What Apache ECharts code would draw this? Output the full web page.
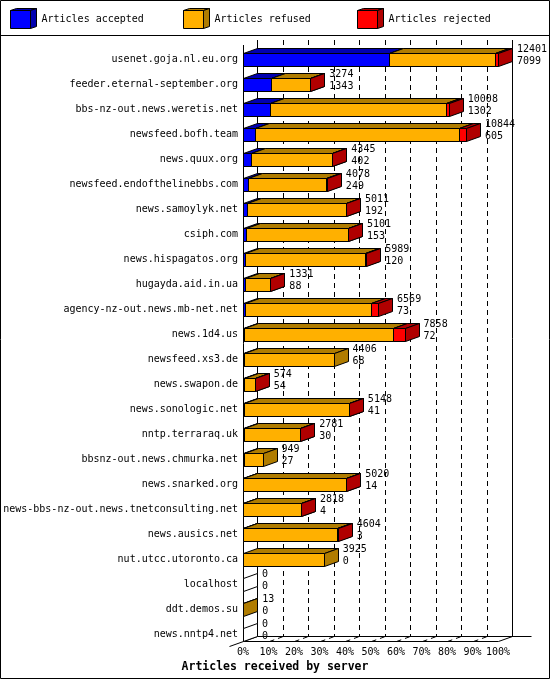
<!DOCTYPE html>
<html>
<head>
<meta charset="utf-8">
<title>Articles received by server</title>
<script src="https://cdn.jsdelivr.net/npm/echarts@6/dist/echarts.min.js"></script>
<style>
  html, body { margin: 0; padding: 0; background: #fff; }
  #main { width: 550px; height: 680px; }
</style>
</head>
<body>
<div id="main"></div>
<script>
// innfeed peers, top to bottom
var servers = [
  'usenet.goja.nl.eu.org', 'feeder.eternal-september.org', 'bbs-nz-out.news.weretis.net',
  'newsfeed.bofh.team', 'news.quux.org', 'newsfeed.endofthelinebbs.com', 'news.samoylyk.net',
  'csiph.com', 'news.hispagatos.org', 'hugayda.aid.in.ua', 'agency-nz-out.news.mb-net.net',
  'news.1d4.us', 'newsfeed.xs3.de', 'news.swapon.de', 'news.sonologic.net', 'nntp.terraraq.uk',
  'bbsnz-out.news.chmurka.net', 'news.snarked.org', 'news-bbs-nz-out.news.tnetconsulting.net',
  'news.ausics.net', 'nut.utcc.utoronto.ca', 'localhost', 'ddt.demos.su', 'news.nntp4.net'
];
var accepted = [7099, 1343, 1302, 605, 402, 249, 192, 153, 120, 88, 73, 72, 68, 54, 41, 30, 27, 14, 4, 3, 0, 0, 0, 0];
var refused  = [5152, 1911, 8566, 9899, 3928, 3769, 4809, 4938, 5809, 1233, 6156, 7236, 4338, 510, 5097, 2741, 922, 4996, 2804, 4591, 3925, 0, 13, 0];
var rejected = [150, 20, 140, 340, 15, 60, 10, 10, 60, 10, 340, 550, 0, 10, 10, 10, 0, 10, 10, 10, 0, 0, 0, 0];
var percentLabels = ['0%', '10%', '20%', '30%', '40%', '50%', '60%', '70%', '80%', '90%', '100%'];

var FONT = 'DejaVu Sans Mono';
var DX = 14, DY = 5, FACE_H = 13;
var colors = {
  accepted: ['#0000ff', '#0000b0'],
  refused: ['#ffb000', '#b07c00'],
  rejected: ['#ff0000', '#b00000']
};

var totals = servers.map(function (s, i) { return accepted[i] + refused[i] + rejected[i]; });
var maxTotal = Math.max.apply(null, totals);

function px(v) { return Math.round(v) + 0.5; }

// one 3D box: front, top, right side
function box(x0, x1, cy, c) {
  var t = px(cy - 0.5), b = t + FACE_H;
  x0 = px(x0); x1 = px(x1);
  var st = function (fill) { return { fill: fill, stroke: '#000', lineWidth: 1 }; };
  return [
    { type: 'rect', z2: 10, shape: { x: x0, y: t, width: x1 - x0, height: FACE_H }, style: st(c[0]) },
    { type: 'polygon', z2: 10, shape: { points: [[x0, t], [x0 + DX, t - DY], [x1 + DX, t - DY], [x1, t]] }, style: st(c[1]) },
    { type: 'polygon', z2: 10, shape: { points: [[x1, t], [x1 + DX, t - DY], [x1 + DX, b - DY], [x1, b]] }, style: st(c[1]) }
  ];
}

function segSeries(name, c, starts, ends) {
  return {
    name: name,
    type: 'custom',
    clip: false,
    z: 5,
    encode: { x: [1, 2], y: 0 },
    data: servers.map(function (s, i) { return [i, starts[i], ends[i]]; }),
    renderItem: function (params, api) {
      var s = api.value(1), e = api.value(2);
      if (e <= s) return null;
      var p0 = api.coord([s, api.value(0)]);
      var p1 = api.coord([e, api.value(0)]);
      return { type: 'group', children: box(p0[0], p1[0], p0[1], c) };
    }
  };
}

var accEnd = accepted.slice();
var refEnd = accepted.map(function (a, i) { return a + refused[i]; });
var zeros = servers.map(function () { return 0; });

var series = [
  // back wall, floor and dashed grid
  {
    type: 'custom',
    clip: false,
    z: 1,
    silent: true,
    encode: { x: 0, y: 1 },
    data: [[0, 0]],
    renderItem: function (params, api) {
      var band = api.size([0, 1])[1];
      var xL = px(api.coord([0, 0])[0]);
      var xR = px(api.coord([maxTotal, 0])[0]);
      var yTop = Math.round(api.coord([0, 0])[1] - band / 2);
      var yBot = px(api.coord([0, servers.length - 1])[1] + band / 2);
      var solid = { stroke: '#000', lineWidth: 1 };
      var dashed = { stroke: '#000', lineWidth: 1, lineDash: [5, 4] };
      var line = function (a, b, c, d, st) {
        return { type: 'line', z2: 0, shape: { x1: a, y1: b, x2: c, y2: d }, style: st };
      };
      var ch = [
        line(xL + DX, yTop - 1, xL + DX, yBot - DY, solid),
        line(xR + DX, yTop - 1, xR + DX, yBot - DY, solid),
        line(xL + DX, yBot - DY, xR + DX + 19, yBot - DY, solid),
        line(xL, yBot, xR, yBot, solid),
        line(xR, yBot, xR + DX, yBot - DY, solid),
        line(xL - DX, yBot + DY, xL + DX, yBot - DY, solid),
        line(xL, yTop + 4, xL, yBot, solid)
      ];
      for (var k = 1; k < 10; k++) {
        var xk = px(api.coord([maxTotal * k / 10, 0])[0]);
        ch.push(line(xk + DX, yTop - 1, xk + DX, yBot - DY, dashed));
        ch.push(line(xk, yBot, xk + DX, yBot - DY, dashed));
      }
      return { type: 'group', children: ch };
    }
  },
  segSeries('Articles accepted', colors.accepted, zeros, accEnd),
  segSeries('Articles refused', colors.refused, accEnd, refEnd),
  segSeries('Articles rejected', colors.rejected, refEnd, totals),
  // value labels and empty boxes
  {
    type: 'custom',
    clip: false,
    z: 6,
    silent: true,
    encode: { x: 1, y: 0 },
    data: servers.map(function (s, i) { return [i, totals[i], accepted[i]]; }),
    renderItem: function (params, api) {
      var row = api.value(0), tot = api.value(1);
      var p = api.coord([tot, row]);
      var ch = [];
      if (tot === 0) {
        var x0 = px(p[0]), t = px(p[1] - 0.5), b = t + FACE_H;
        ch.push({
          type: 'polygon',
          shape: { points: [[x0, t], [x0 + DX, t - DY], [x0 + DX, b - DY], [x0, b]] },
          style: { fill: '#fff', stroke: '#000', lineWidth: 1 }
        });
      }
      ch.push({
        type: 'text',
        style: {
          text: tot + '\n' + api.value(2),
          x: p[0] + 19, y: p[1] + 1.5,
          fill: '#000', fontFamily: FONT, fontSize: 10,
          lineHeight: 12, align: 'left', verticalAlign: 'middle'
        }
      });
      return { type: 'group', children: ch };
    }
  }
];

function legendOf(name, left, c) {
  return {
    left: left, top: 10, padding: 0,
    selectedMode: false,
    itemWidth: 20, itemHeight: 18,
    textStyle: { fontFamily: FONT, fontSize: 10, color: '#000', padding: [0, 0, 0, 6] },
    data: [{ name: name, icon: 'rect', itemStyle: { color: c[0], borderColor: '#000', borderWidth: 1 } }]
  };
}

// the dark faces of the legend cubes
var cubeFaces = [];
[[10, colors.accepted], [183, colors.refused], [357, colors.rejected]].forEach(function (d) {
  var x = d[0] + 0.5, y = 10.5;
  var st = { fill: d[1][1], stroke: '#000', lineWidth: 1 };
  cubeFaces.push({ type: 'polygon', z: 10, shape: { points: [[x, y], [x + 6, y - 2], [x + 26, y - 2], [x + 20, y]] }, style: st });
  cubeFaces.push({ type: 'polygon', z: 10, shape: { points: [[x + 20, y], [x + 26, y - 2], [x + 26, y + 16], [x + 20, y + 18]] }, style: st });
});

var chart = echarts.init(document.getElementById('main'));
chart.setOption({
  backgroundColor: '#fff',
  animation: false,
  title: {
    text: 'Articles received by server',
    left: 'center', top: 661, padding: 0,
    textStyle: { fontFamily: FONT, fontSize: 11.5, fontWeight: 'bold', color: '#000' }
  },
  legend: [
    legendOf('Articles accepted', 10, colors.accepted),
    legendOf('Articles refused', 183, colors.refused),
    legendOf('Articles rejected', 357, colors.rejected)
  ],
  grid: { left: 243, right: 52, top: 41, bottom: 39, containLabel: false },
  xAxis: {
    type: 'value',
    min: 0, max: maxTotal, interval: maxTotal / 10,
    axisLine: { show: false },
    axisTick: { show: false },
    splitLine: { show: false },
    axisLabel: {
      margin: 6,
      fontFamily: FONT, fontSize: 10, color: '#000',
      formatter: function (v, i) { return percentLabels[i]; }
    }
  },
  yAxis: {
    type: 'category',
    inverse: true,
    data: servers,
    axisLine: { show: false },
    axisTick: { show: false },
    axisLabel: {
      margin: 5,
      fontFamily: FONT, fontSize: 10, color: '#000',
      verticalAlign: 'top', lineHeight: 12
    }
  },
  graphic: [
    { type: 'rect', z: 10, shape: { x: 0.5, y: 0.5, width: 549, height: 678 }, style: { fill: 'none', stroke: '#000', lineWidth: 1 } },
    { type: 'line', z: 10, shape: { x1: 0, y1: 35.5, x2: 550, y2: 35.5 }, style: { stroke: '#000', lineWidth: 1 } }
  ].concat(cubeFaces),
  series: series
});
</script>
</body>
</html>
